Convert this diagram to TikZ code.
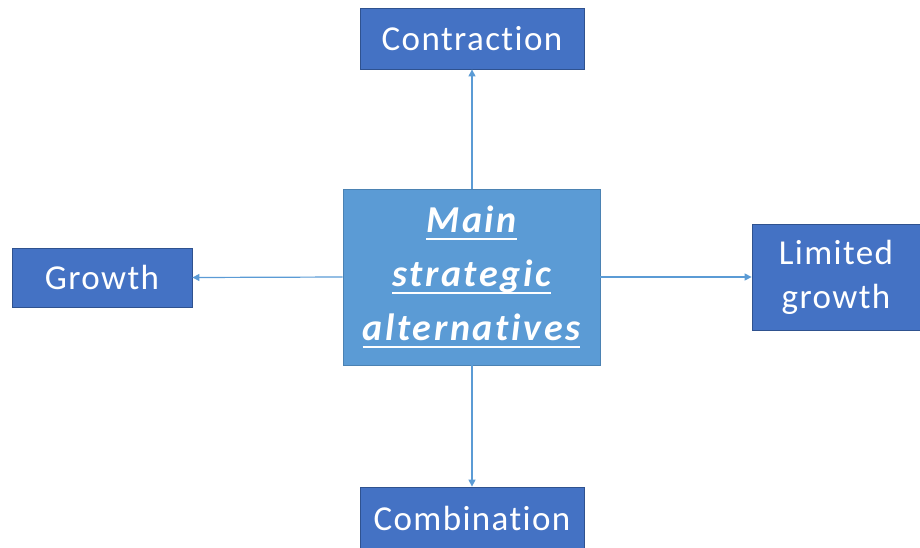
\documentclass[tikz,border=0pt]{standalone}
\usepackage{fontspec}
\setmainfont{Carlito}
\newfontfamily\boxfont[LetterSpace=4,Ligatures=NoCommon]{Carlito}
\newfontfamily\corefont[LetterSpace=7,Ligatures=NoCommon]{Carlito}
\usetikzlibrary{arrows.meta}
\definecolor{outerfill}{HTML}{4472C4}
\definecolor{outerline}{HTML}{2F528F}
\definecolor{centerfill}{HTML}{5B9BD5}
\definecolor{centerline}{HTML}{41719C}
\definecolor{linkcol}{HTML}{5B9BD5}
\tikzset{
  optbox/.style={draw=outerline, line width=0.8pt, fill=outerfill, text=white,
    font=\boxfont\fontsize{35}{44}\selectfont, align=center, inner sep=0pt},
  corebox/.style={draw=centerline!60!centerfill, line width=0.8pt, fill=centerfill, text=white,
    font=\corefont\fontsize{38}{54}\selectfont\bfseries\itshape, align=center, inner sep=0pt},
  link/.style={draw=linkcol, line width=1.2pt, -{Triangle[length=7pt,width=7pt]}}
}
% thick underline below a word
\newcommand{\ul}[1]{\setbox0\hbox{#1}\rlap{\rule[-8pt]{\wd0}{2.4pt}}\box0}
\begin{document}
\begin{tikzpicture}[x=1pt,y=-1pt]
  \useasboundingbox (0,0) rectangle (920,547);
  % central box
  \node[corebox, minimum width=257pt, minimum height=176pt] (core) at (471.5,277)
    {\ul{Main}\\\ul{strategic}\\\ul{alternatives}};
  % the four alternatives
  \node[optbox, minimum width=224pt, minimum height=61pt] (up) at (472,38.5) {Contraction};
  \node[optbox, minimum width=180pt, minimum height=59pt] (left) at (102,277.5) {Growth};
  \node[optbox, minimum width=168pt, minimum height=106pt] (right) at (836,277) {Limited\\growth};
  \node[optbox, minimum width=224pt, minimum height=62pt] (down) at (472,518) {Combination};
  % connectors
  \draw[link] (core.north -| up.south) -- (up.south);
  \draw[link] (core.south -| down.north) -- (down.north);
  \draw[link] (core.west) -- (left.east);
  \draw[link] (core.east) -- (right.west);
\end{tikzpicture}
\end{document}
